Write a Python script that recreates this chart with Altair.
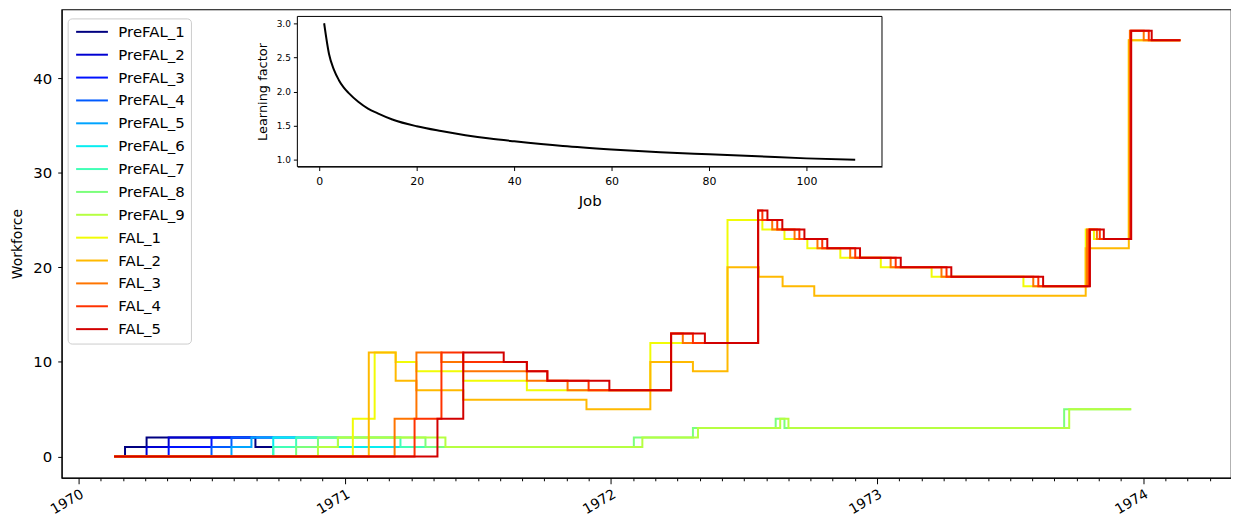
import altair as alt
import pandas as pd

SERIES = ["PreFAL_1", "PreFAL_2", "PreFAL_3", "PreFAL_4", "PreFAL_5", "PreFAL_6",
          "PreFAL_7", "PreFAL_8", "PreFAL_9", "FAL_1", "FAL_2", "FAL_3", "FAL_4", "FAL_5"]
COLORS = ["#000080", "#0000d2", "#0012ff", "#005bff", "#00a4ff", "#06edf1", "#41ffb6",
          "#7bff7b", "#b6ff41", "#f1fc06", "#ffb900", "#ff7500", "#ff3200", "#d20000"]

# (decimal year, workforce) step points
PREFAL_1 = [(1970.133, 0), (1970.174, 1), (1970.255, 2), (1970.664, 1), (1970.731, 1)]
PREFAL_2 = [(1970.133, 0), (1970.255, 1), (1970.338, 2), (1970.649, 2)]
PREFAL_3 = [(1970.133, 0), (1970.338, 1), (1970.499, 2), (1970.731, 2)]
PREFAL_4 = [(1970.133, 0), (1970.499, 1), (1970.574, 2), (1970.817, 2)]
PREFAL_5 = [(1970.133, 0), (1970.574, 1), (1970.649, 2), (1970.899, 2)]
PREFAL_6 = [(1970.133, 0), (1970.731, 2), (1970.974, 1), (1971.209, 1)]
PREFAL_7 = [(1970.133, 0), (1970.731, 1), (1970.817, 2), (1971.209, 1), (1971.303, 1)]
PREFAL_8 = [(1970.133, 0), (1970.817, 1), (1970.899, 2), (1971.303, 1), (1972.086, 2),
            (1972.308, 3), (1972.619, 4), (1972.652, 3), (1973.703, 5), (1973.955, 5)]
PREFAL_9 = [(1970.133, 0), (1970.899, 1), (1970.974, 2), (1971.378, 1), (1972.118, 2),
            (1972.327, 3), (1972.636, 4), (1972.667, 3), (1973.722, 5), (1973.955, 5)]
FAL_1 = [(1970.133, 0), (1971.030, 4), (1971.112, 11), (1971.191, 10), (1971.269, 9),
         (1971.445, 8), (1971.684, 7), (1972.148, 12), (1972.438, 25), (1972.569, 24),
         (1972.652, 23), (1972.738, 22), (1972.862, 21), (1973.014, 20), (1973.205, 19),
         (1973.550, 18), (1973.784, 24), (1973.815, 23), (1973.946, 44), (1974.140, 44)]
FAL_2 = [(1970.133, 0), (1971.090, 11), (1971.191, 8), (1971.269, 7), (1971.445, 6),
         (1971.908, 5), (1972.148, 10), (1972.308, 9), (1972.438, 20), (1972.555, 19),
         (1972.645, 18), (1972.764, 17), (1973.784, 22), (1973.946, 44), (1974.140, 44)]
FAL_3 = [(1970.133, 0), (1971.187, 4), (1971.269, 11), (1971.363, 10), (1971.445, 9),
         (1971.684, 8), (1971.837, 7), (1972.226, 13), (1972.270, 12), (1972.553, 25),
         (1972.606, 24), (1972.690, 23), (1972.776, 22), (1972.899, 21), (1973.051, 20),
         (1973.242, 19), (1973.587, 18), (1973.789, 24), (1973.826, 23), (1973.950, 45),
         (1974.002, 44), (1974.140, 44)]
FAL_4 = [(1970.133, 0), (1971.262, 4), (1971.363, 11), (1971.445, 10), (1971.684, 9),
         (1971.761, 8), (1971.916, 7), (1972.226, 13), (1972.308, 12), (1972.553, 26),
         (1972.569, 25), (1972.625, 24), (1972.708, 23), (1972.794, 22), (1972.918, 21),
         (1973.070, 20), (1973.261, 19), (1973.606, 18), (1973.796, 24), (1973.837, 23),
         (1973.953, 45), (1974.021, 44), (1974.140, 44)]
FAL_5 = [(1970.133, 0), (1971.348, 4), (1971.445, 11), (1971.597, 10), (1971.684, 9),
         (1971.761, 8), (1971.994, 7), (1972.226, 13), (1972.353, 12), (1972.553, 26),
         (1972.588, 25), (1972.644, 24), (1972.727, 23), (1972.813, 22), (1972.936, 21),
         (1973.089, 20), (1973.279, 19), (1973.624, 18), (1973.800, 24), (1973.852, 23),
         (1973.955, 45), (1974.032, 44), (1974.140, 44)]

JOB = [1, 2, 3, 4, 5, 6, 8, 10, 12, 15, 20, 25, 30, 35, 40, 50, 60, 70, 80, 90, 100, 110]
LEARNING = [3.0, 2.55, 2.32, 2.17, 2.06, 1.98, 1.85, 1.75, 1.68, 1.59, 1.49, 1.42, 1.36,
            1.31, 1.27, 1.20, 1.15, 1.11, 1.08, 1.05, 1.02, 1.00]

X_DOMAIN = [1969.936, 1974.33]
Y_DOMAIN = [-2.25, 47.25]
Y_TICKS = [0, 10, 20, 30, 40]
MONTH_TICKS = [round(1970 + m / 12, 6) for m in range(0, 52)]

INSET_X_DOMAIN = [-4.5, 115.5]
INSET_Y_DOMAIN = [0.9, 3.1]
INSET_X_TICKS = [0, 20, 40, 60, 80, 100]
INSET_Y_TICKS = [1.0, 1.5, 2.0, 2.5, 3.0]

W, H = 1176, 471
FONT = "DejaVu Sans"

ALL = [PREFAL_1, PREFAL_2, PREFAL_3, PREFAL_4, PREFAL_5, PREFAL_6, PREFAL_7, PREFAL_8,
       PREFAL_9, FAL_1, FAL_2, FAL_3, FAL_4, FAL_5]
rows = []
for name, pts in zip(SERIES, ALL):
    for i, (t, v) in enumerate(pts):
        rows.append({"series": name, "t": t, "v": v, "i": i})
df = pd.DataFrame(rows)

is_year = "abs(datum.value - round(datum.value)) < 0.001"

main = alt.Chart(df).mark_line(interpolate="step-after", strokeWidth=2).encode(
    x=alt.X("t:Q", scale=alt.Scale(domain=X_DOMAIN, nice=False, zero=False),
            axis=alt.Axis(orient="bottom", values=MONTH_TICKS, title=None, grid=False,
                          labelExpr=f"{is_year} ? format(datum.value, 'd') : ''",
                          tickSize={"condition": {"test": is_year, "value": 6}, "value": 3},
                          labelAngle=330, labelAlign="right", labelBaseline="top",
                          labelFontSize=14, labelPadding=3, labelOverlap=False,
                          labelColor="black", tickColor="black", domainColor="black",
                          labelFont=FONT)),
    y=alt.Y("v:Q", scale=alt.Scale(domain=Y_DOMAIN, nice=False, zero=False),
            axis=alt.Axis(orient="left", values=Y_TICKS, title="Workforce", grid=False,
                          tickSize=4, labelPadding=6, labelFontSize=15, titleFontSize=14,
                          titleFontWeight="normal", titlePadding=8, labelColor="black",
                          titleColor="black", tickColor="black", domainColor="black",
                          labelFont=FONT, titleFont=FONT)),
    color=alt.Color("series:N", scale=alt.Scale(domain=SERIES, range=COLORS),
                    legend=alt.Legend(title=None, orient="none", legendX=6, legendY=9,
                                      symbolType="M-3.2,0H3.2", symbolSize=100,
                                      symbolStrokeWidth=2, symbolOffset=11, labelOffset=19,
                                      labelFontSize=15, labelFont=FONT, labelColor="black",
                                      rowPadding=7, padding=6, strokeColor="#cccccc",
                                      fillColor="white", cornerRadius=4)),
    order=alt.Order("i:Q"),
)

inset_x_scale = alt.Scale(domain=INSET_X_DOMAIN, range=[237, 825], nice=False, zero=False)
inset_y_scale = alt.Scale(domain=INSET_Y_DOMAIN, range=[158, 7], nice=False, zero=False)
inset_x_axis = alt.Axis(orient="bottom", offset=-313, values=INSET_X_TICKS, title="Job",
                        grid=False, tickSize=4, labelFontSize=11, titleFontSize=15,
                        titleFontWeight="normal", titlePadding=7, labelPadding=5,
                        labelColor="black", titleColor="black", tickColor="black",
                        domainColor="black", labelFont=FONT, titleFont=FONT)
inset_y_axis = alt.Axis(orient="left", offset=-237, values=INSET_Y_TICKS, format=".1f",
                        title="Learning factor", grid=False, tickSize=4, labelFontSize=9,
                        titleFontSize=13, titleFontWeight="normal", titlePadding=7,
                        labelPadding=3, labelColor="black", titleColor="black",
                        tickColor="black", domainColor="black", labelFont=FONT,
                        titleFont=FONT)

frame_df = pd.DataFrame({"x": [INSET_X_DOMAIN[0]], "x2": [INSET_X_DOMAIN[1]],
                         "y": [INSET_Y_DOMAIN[0]], "y2": [INSET_Y_DOMAIN[1]]})
inset_frame = alt.Chart(frame_df).mark_rect(fill="white", stroke="black", strokeWidth=1).encode(
    x=alt.X("x:Q", scale=inset_x_scale, axis=inset_x_axis),
    x2="x2:Q",
    y=alt.Y("y:Q", scale=inset_y_scale, axis=inset_y_axis),
    y2="y2:Q",
)
inset_line = alt.Chart(pd.DataFrame({"x": JOB, "y": LEARNING})).mark_line(
    color="black", strokeWidth=2, interpolate="monotone").encode(
    x=alt.X("x:Q", scale=inset_x_scale, axis=inset_x_axis),
    y=alt.Y("y:Q", scale=inset_y_scale, axis=inset_y_axis),
)
inset = alt.layer(inset_frame, inset_line)

chart = alt.layer(main, inset).resolve_scale(x="independent", y="independent").properties(
    width=W, height=H,
    autosize=alt.AutoSizeParams(type="none"),
    padding={"left": 54, "top": 0, "right": 0, "bottom": 45},
).configure(font=FONT).configure_view(stroke="black", strokeWidth=1.2)

chart.save("out.html", embed_options={"renderer": "svg", "actions": False})
